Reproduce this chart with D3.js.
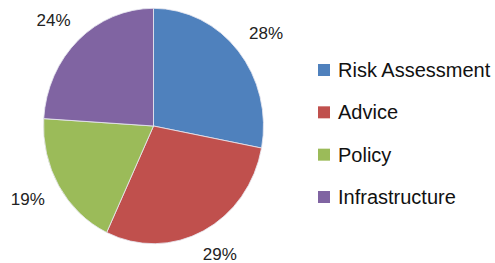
<!DOCTYPE html>
<html><head><meta charset="utf-8">
<script src="https://cdn.jsdelivr.net/npm/d3@7"></script>
<style>body{margin:0;background:#fff}svg{display:block}</style>
</head><body>
<svg id="c" width="495" height="263"></svg>
<script>
const categories = ["Risk Assessment", "Advice", "Policy", "Infrastructure"];
const values = [28, 29, 19, 24];
const colors = ["#4F81BD", "#C0504D", "#9BBB59", "#8064A2"];

const svg = d3.select("#c");
const cx = 153.5, cy = 126, r = 110, sy = 1.07, lr = 129;
const pie = d3.pie().sort(null).value(d => d)(values);
const arc = d3.arc().innerRadius(0).outerRadius(r);
const labelArc = d3.arc().innerRadius(lr).outerRadius(lr);

const g = svg.append("g").attr("transform", `translate(${cx},${cy}) scale(1,${sy})`);
g.selectAll("path").data(pie).join("path")
  .attr("d", arc)
  .attr("fill", (d, i) => colors[i])
  .attr("stroke", "#e8e8f0").attr("stroke-width", 0.8);

const fmt = d3.format(".0f");
const labels = svg.append("g").selectAll("text").data(pie).join("text")
  .attr("text-anchor", "middle").attr("dominant-baseline", "central")
  .attr("font-family", "Liberation Sans, Arial, sans-serif")
  .attr("font-size", 17).attr("fill", "#222")
  .text(d => fmt(d.data) + "%");
labels.each(function(d) {
  const w = this.getComputedTextLength(), h = 13;
  const a = (d.startAngle + d.endAngle) / 2;
  const c = labelArc.centroid(d);
  d3.select(this)
    .attr("x", cx + c[0] + Math.sin(a) * w / 2)
    .attr("y", cy + c[1] * sy - Math.cos(a) * h / 2);
});

const y = d3.scalePoint().domain(categories).range([70, 197]);
const lg = svg.append("g");
lg.selectAll("rect").data(categories).join("rect")
  .attr("x", 318).attr("y", d => y(d) - 6).attr("width", 12).attr("height", 12)
  .attr("fill", (d, i) => colors[i]);
lg.selectAll("text").data(categories).join("text")
  .attr("x", 338).attr("y", d => y(d)).attr("dominant-baseline", "central")
  .attr("font-family", "Liberation Sans, Arial, sans-serif")
  .attr("font-size", 20).attr("fill", "#111")
  .text(d => d);
</script>
</body></html>
